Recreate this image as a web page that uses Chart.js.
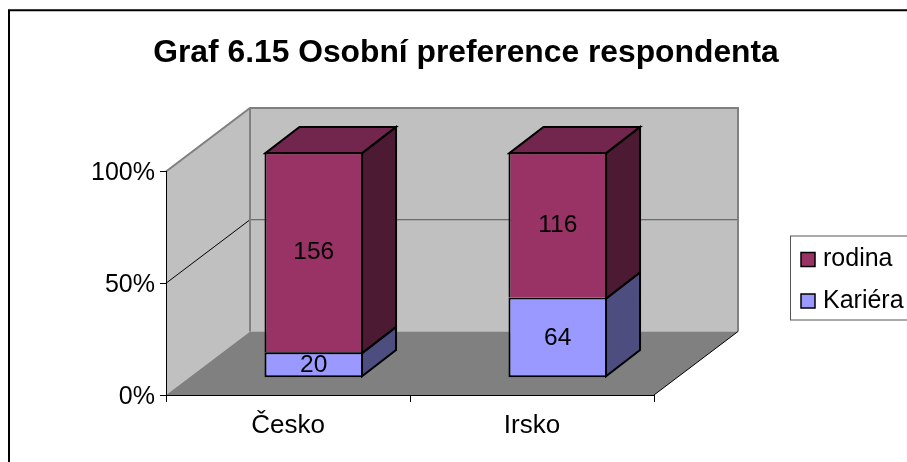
<!DOCTYPE html>
<html>
<head>
<meta charset="utf-8">
<style>html,body{margin:0;padding:0;background:#fff;overflow:hidden}canvas{display:block}</style>
<script src="https://cdn.jsdelivr.net/npm/chart.js@4/dist/chart.umd.min.js"></script>
</head>
<body>
<canvas id="c" width="907" height="462"></canvas>
<script>
const titleText = 'Graf 6.15 Osobní preference respondenta';
const categories = ['Česko', 'Irsko'];
const kariera = [20, 64];
const rodina = [156, 116];
const percentTicks = [0, 50, 100];

const totals = categories.map((_, i) => kariera[i] + rodina[i]);
const toPct = arr => arr.map((v, i) => v / totals[i] * 100);

const FONT = '"Liberation Sans", Arial, sans-serif';
const WALL = {dx: 84, dy: -63.5};
const BAR = {dx: 34, dy: -26, ox: 25.75, baseY: 377.8, k: 1.0094};
const faces = {
  Kariéra: {front: '#9999FF', top: '#7373BF', side: '#4D4D80'},
  rodina: {front: '#993366', top: '#73264D', side: '#4D1A33'}
};

function poly(ctx, pts, fill, stroke, lw) {
  ctx.beginPath();
  pts.forEach((p, i) => i ? ctx.lineTo(p[0], p[1]) : ctx.moveTo(p[0], p[1]));
  ctx.closePath();
  if (fill) { ctx.fillStyle = fill; ctx.fill(); }
  if (stroke) { ctx.strokeStyle = stroke; ctx.lineWidth = lw; ctx.lineJoin = 'miter'; ctx.stroke(); }
}
function line(ctx, pts, color, lw) {
  ctx.beginPath();
  pts.forEach((p, i) => i ? ctx.lineTo(p[0], p[1]) : ctx.moveTo(p[0], p[1]));
  ctx.strokeStyle = color; ctx.lineWidth = lw; ctx.stroke();
}

const scene3d = {
  id: 'scene3d',
  afterLayout(chart) {
    const t = chart.titleBlock;
    t.left = 25; t.right = 907; t.width = 882;
    const l = chart.legend;
    l.left = 794; l.top = 230.5; l.right = 907; l.bottom = 360; l.width = 113; l.height = 130;
  },
  beforeDraw(chart) {
    const ctx = chart.ctx, a = chart.chartArea, y = chart.scales.y;
    const {dx, dy} = WALL;
    y.getLabelItems(a).forEach(it => { it.options.translation[1] = y.getPixelForValue(it.label === '100%' ? 100 : it.label === '50%' ? 50 : 0) + 2; });
    ctx.save();
    ctx.fillStyle = '#fff';
    ctx.fillRect(0, 0, chart.width, chart.height);
    line(ctx, [[9, 470], [9, 10.3], [915, 10.3]], '#000', 2);

    const L = a.left, R = a.right, T = a.top, B = a.bottom;
    poly(ctx, [[L + dx, T + dy], [R + dx, T + dy], [R + dx, B + dy], [L + dx, B + dy]], '#C0C0C0');
    poly(ctx, [[L, T], [L + dx, T + dy], [L + dx, B + dy], [L, B]], '#C0C0C0');
    poly(ctx, [[L, B], [L + dx, B + dy], [R + dx, B + dy], [R, B]], '#808080');

    percentTicks.slice(1, -1).forEach(v => {
      const p = y.getPixelForValue(v);
      line(ctx, [[L, p], [L + dx, p + dy]], '#000', 1);
      line(ctx, [[L + dx, p + dy], [R + dx, p + dy]], '#555', 1);
    });
    line(ctx, [[L, T], [L + dx, T + dy], [R + dx, T + dy], [R + dx, B + dy]], '#808080', 2);
    line(ctx, [[L + dx, T + dy], [L + dx, B + dy]], '#808080', 2);
    line(ctx, [[R, B], [R + dx, B + dy]], '#000', 1);

    const lg = chart.legend, pad = lg.options.labels.padding, fs = lg.options.labels.font.size;
    ctx.strokeStyle = '#555'; ctx.lineWidth = 1;
    ctx.strokeRect(790.5, 236, 130, 84);
    chart.data.datasets.slice().reverse().forEach((ds, i) => {
      const by = lg.top + pad + i * (fs + pad) + (fs - 14) / 2;
      ctx.fillStyle = ds.backgroundColor;
      ctx.fillRect(801, by, 14, 14);
      ctx.strokeStyle = '#000'; ctx.lineWidth = 1.5;
      ctx.strokeRect(801, by, 14, 14);
    });
    ctx.restore();
  },
  beforeDatasetsDraw(chart) {
    const ctx = chart.ctx, y0 = chart.chartArea.bottom;
    ctx.save();
    ctx.transform(1, 0, 0, BAR.k, BAR.ox, BAR.baseY - y0 * BAR.k);
    const {dx, dy} = BAR;
    const last = chart.data.datasets.length - 1;
    chart.data.datasets.forEach((ds, di) => {
      const f = faces[ds.label];
      chart.getDatasetMeta(di).data.forEach(el => {
        const r = el.x + el.width / 2 - 1, l = el.x - el.width / 2 + 1;
        const t = el.y + 1, b = di === 0 ? el.base - 1 : el.base + 1;
        poly(ctx, [[r, t], [r + dx, t + dy], [r + dx, b + dy], [r, b]], f.side, '#000', 2);
        if (di === last) {
          poly(ctx, [[l, t], [l + dx, t + dy], [r + dx, t + dy], [r, t]], f.top, '#000', 2);
        }
      });
    });
  },
  afterDatasetsDraw(chart) {
    const ctx = chart.ctx;
    const sources = [kariera, rodina];
    const pts = [];
    chart.data.datasets.forEach((ds, di) => {
      chart.getDatasetMeta(di).data.forEach((el, i) => {
        pts.push([sources[di][i], el.x, (el.y + el.base) / 2]);
      });
    });
    const m = ctx.getTransform();
    ctx.restore();
    ctx.save();
    ctx.font = '24.5px ' + FONT;
    ctx.fillStyle = '#000';
    ctx.textAlign = 'center';
    ctx.textBaseline = 'middle';
    pts.forEach(([v, x, yy]) => {
      const q = m.transformPoint(new DOMPoint(x, yy));
      ctx.fillText(String(v), q.x, q.y + 0.5);
    });
    ctx.restore();
  }
};

new Chart(document.getElementById('c'), {
  type: 'bar',
  plugins: [scene3d],
  data: {
    labels: categories,
    datasets: [
      {label: 'Kariéra', data: toPct(kariera), backgroundColor: faces['Kariéra'].front, borderColor: '#000', borderWidth: 2, borderSkipped: false, clip: false},
      {label: 'rodina', data: toPct(rodina), backgroundColor: faces.rodina.front, borderColor: '#000', borderWidth: {top: 2, left: 2, right: 2, bottom: 0}, borderSkipped: false, clip: false}
    ]
  },
  options: {
    responsive: false,
    animation: false,
    events: [],
    barPercentage: 0.404,
    categoryPercentage: 1,
    layout: {padding: {left: 0, right: 253, top: 0, bottom: 0}},
    plugins: {
      tooltip: {enabled: false},
      title: {
        display: true, text: titleText, color: '#000',
        font: {family: FONT, size: 31.8, weight: 'bold', lineHeight: 1.2},
        padding: {top: 34, bottom: 99.3}
      },
      legend: {
        display: true, position: 'chartArea', align: 'start',
        labels: {
          boxWidth: 0, boxHeight: 14, padding: 16.5, color: '#000',
          font: {family: FONT, size: 25},
          usePointStyle: false,
          generateLabels: chart => Chart.defaults.plugins.legend.labels.generateLabels(chart)
            .map(o => ({...o, lineWidth: 0, fillStyle: 'transparent', strokeStyle: 'transparent'})).reverse()
        }
      }
    },
    scales: {
      x: {
        stacked: true,
        afterFit: s => { s.height = 67; },
        grid: {drawOnChartArea: false, tickLength: 7, color: '#000', tickColor: '#000'},
        border: {color: '#000', width: 1},
        ticks: {color: '#000', font: {family: FONT, size: 26}, padding: 8, maxRotation: 0}
      },
      y: {
        stacked: true, min: 0, max: 100,
        afterFit: s => { s.width = 166; },
        afterBuildTicks: s => { s.ticks = percentTicks.map(v => ({value: v})); },
        grid: {drawOnChartArea: false, tickLength: 6, color: '#000', tickColor: '#000'},
        border: {color: '#000', width: 1},
        ticks: {color: '#000', font: {family: FONT, size: 25}, padding: 5, callback: v => v + '%'}
      }
    }
  }
});
</script>
</body>
</html>
